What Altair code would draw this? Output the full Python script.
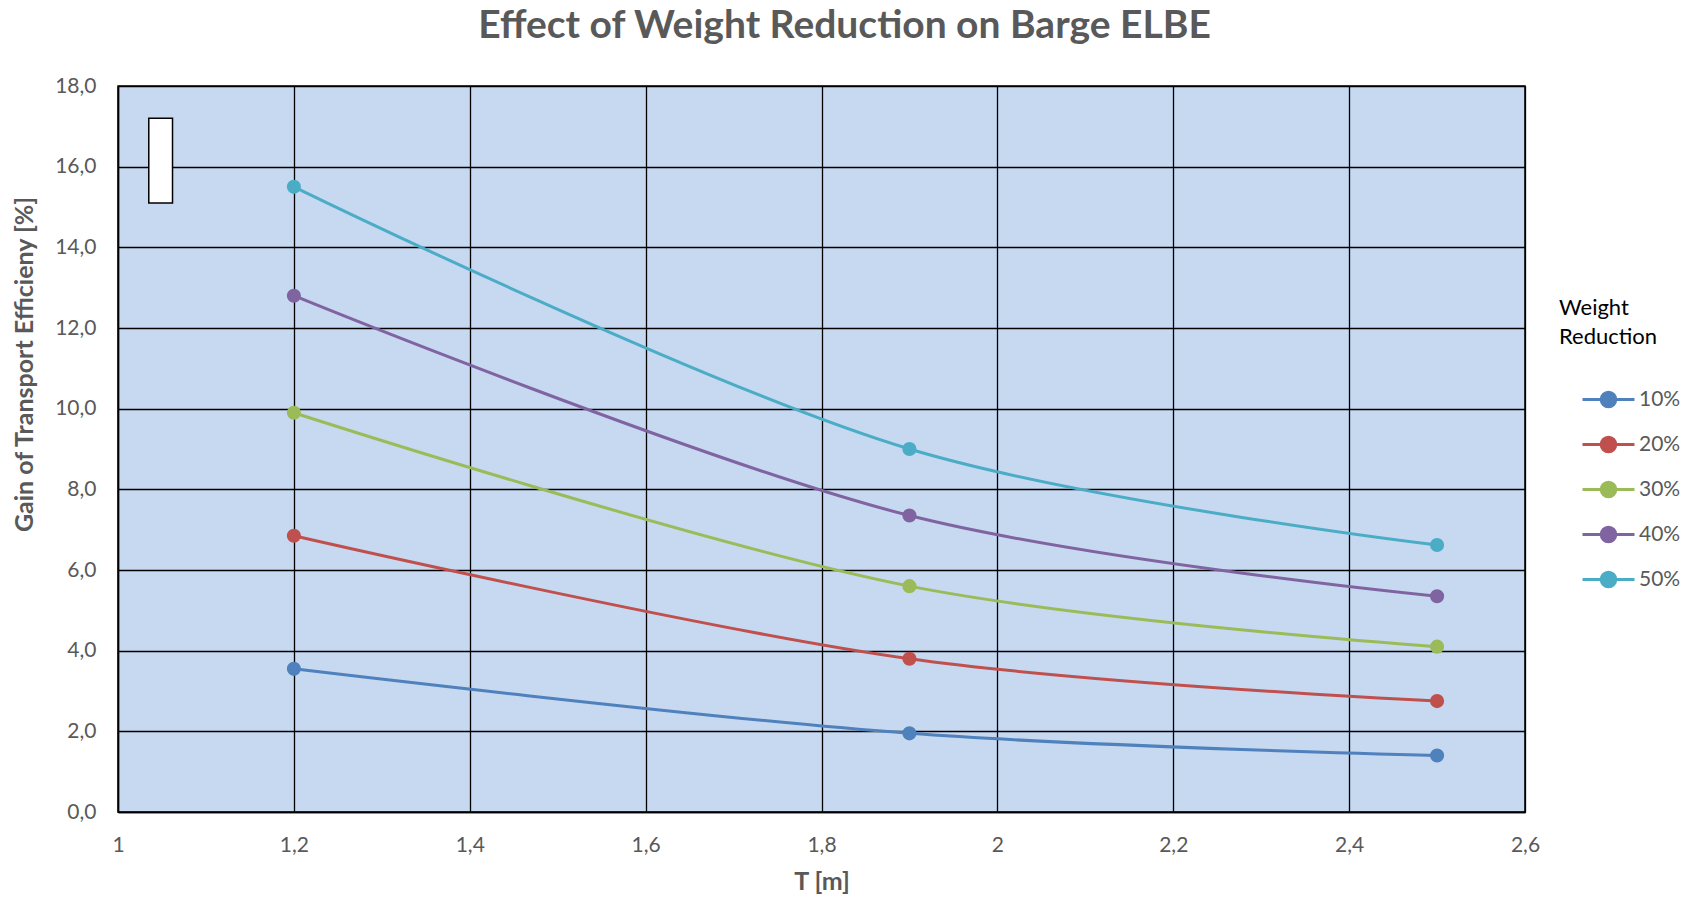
import altair as alt
import pandas as pd

T = [1.2, 1.9, 2.5]
series_names = ["10%", "20%", "30%", "40%", "50%"]
gain_10 = [3.55, 1.95, 1.40]
gain_20 = [6.85, 3.80, 2.75]
gain_30 = [9.90, 5.60, 4.10]
gain_40 = [12.80, 7.35, 5.35]
gain_50 = [15.50, 9.00, 6.62]
colors = ["#4F81BD", "#C0504D", "#9BBB59", "#8064A2", "#4BACC6"]

x_ticks = [1.0, 1.2, 1.4, 1.6, 1.8, 2.0, 2.2, 2.4, 2.6]
y_ticks = [0, 2, 4, 6, 8, 10, 12, 14, 16, 18]

# stray empty box (as in the original figure)
box_x = [1.035]
box_x2 = [1.062]
box_y = [15.1]
box_y2 = [17.2]

rows = []
for name, vals in zip(series_names, [gain_10, gain_20, gain_30, gain_40, gain_50]):
    for t, v in zip(T, vals):
        rows.append({"T": t, "gain": v, "wr": name})
df = pd.DataFrame(rows)
box_df = pd.DataFrame({"x": box_x, "x2": box_x2, "y": box_y, "y2": box_y2})

FONT = "Lato"
GRAY = "#595959"

sym_path = ("M-0.154,0 L1.846,0 "
            "M0.566,0 A0.28,0.28 0 1,1 1.126,0 A0.28,0.28 0 1,1 0.566,0 Z")

legend = alt.Legend(
    title=["Weight", "Reduction"],
    orient="none",
    legendX=1441,
    legendY=212,
    titleFont=FONT,
    titleFontSize=22,
    titleFontWeight="normal",
    titleColor="black",
    titleLineHeight=29,
    titlePadding=23,
    labelFont=FONT,
    labelFontSize=21,
    labelColor=GRAY,
    labelOffset=25,
    symbolType=sym_path,
    symbolSize=2704,
    symbolStrokeWidth=3,
    rowPadding=4,
)

color_scale = alt.Scale(domain=series_names, range=colors)

x_enc = alt.X(
    "T:Q",
    scale=alt.Scale(domain=[1.0, 2.6], nice=False, zero=False),
    axis=alt.Axis(
        values=x_ticks,
        labelExpr="replace(format(datum.value, '.1~f'), '.', ',')",
        title="T [m]",
        labelFlush=False,
        titleY=69,
        titleBaseline="middle",
    ),
)
y_enc = alt.Y(
    "gain:Q",
    scale=alt.Scale(domain=[0, 18], nice=False),
    axis=alt.Axis(
        values=y_ticks,
        labelExpr="replace(format(datum.value, '.1f'), '.', ',')",
        title="Gain of Transport Efficieny [%]",
        titleX=-94,
        titleY=278,
        titleAlign="center",
        titleBaseline="middle",
        titleAngle=-90,
    ),
)

lines = alt.Chart(df).mark_line(interpolate="catmull-rom", strokeWidth=3).encode(
    x=x_enc, y=y_enc,
    color=alt.Color("wr:N", scale=color_scale, legend=legend),
)
points = alt.Chart(df).mark_point(filled=True, size=200, opacity=1, shape="circle").encode(
    x=x_enc, y=y_enc,
    fill=alt.Fill("wr:N", scale=color_scale, legend=legend),
)
box = alt.Chart(box_df).mark_rect(fill="white", stroke="black", strokeWidth=1.5).encode(
    x="x:Q", x2="x2:Q", y="y:Q", y2="y2:Q"
)

chart = alt.layer(box, lines, points).properties(
    width=1407,
    height=726,
    padding={"left": 118, "top": 86, "right": 171, "bottom": 88},
    autosize=alt.AutoSizeParams(type="none"),
    background="white",
    title=alt.TitleParams(
        "Effect of Weight Reduction on Barge ELBE",
        font=FONT,
        fontSize=39,
        fontWeight="bold",
        color=GRAY,
        anchor="middle",
        dx=23,
        offset=10,
        baseline="middle",
    ),
).configure_view(
    fill="#C6D9F0", stroke="black", strokeWidth=1.5
).configure_axis(
    grid=True,
    gridColor="black",
    gridWidth=1.3,
    gridOpacity=1,
    domainColor="black",
    domainWidth=1.5,
    tickSize=0,
    labelFont=FONT,
    labelFontSize=21,
    labelColor=GRAY,
    labelPadding=22,
    titleFont=FONT,
    titleFontSize=25,
    titleFontWeight="bold",
    titleColor=GRAY,
)

chart.save("out.html", embed_options={"renderer": "svg", "actions": False})
